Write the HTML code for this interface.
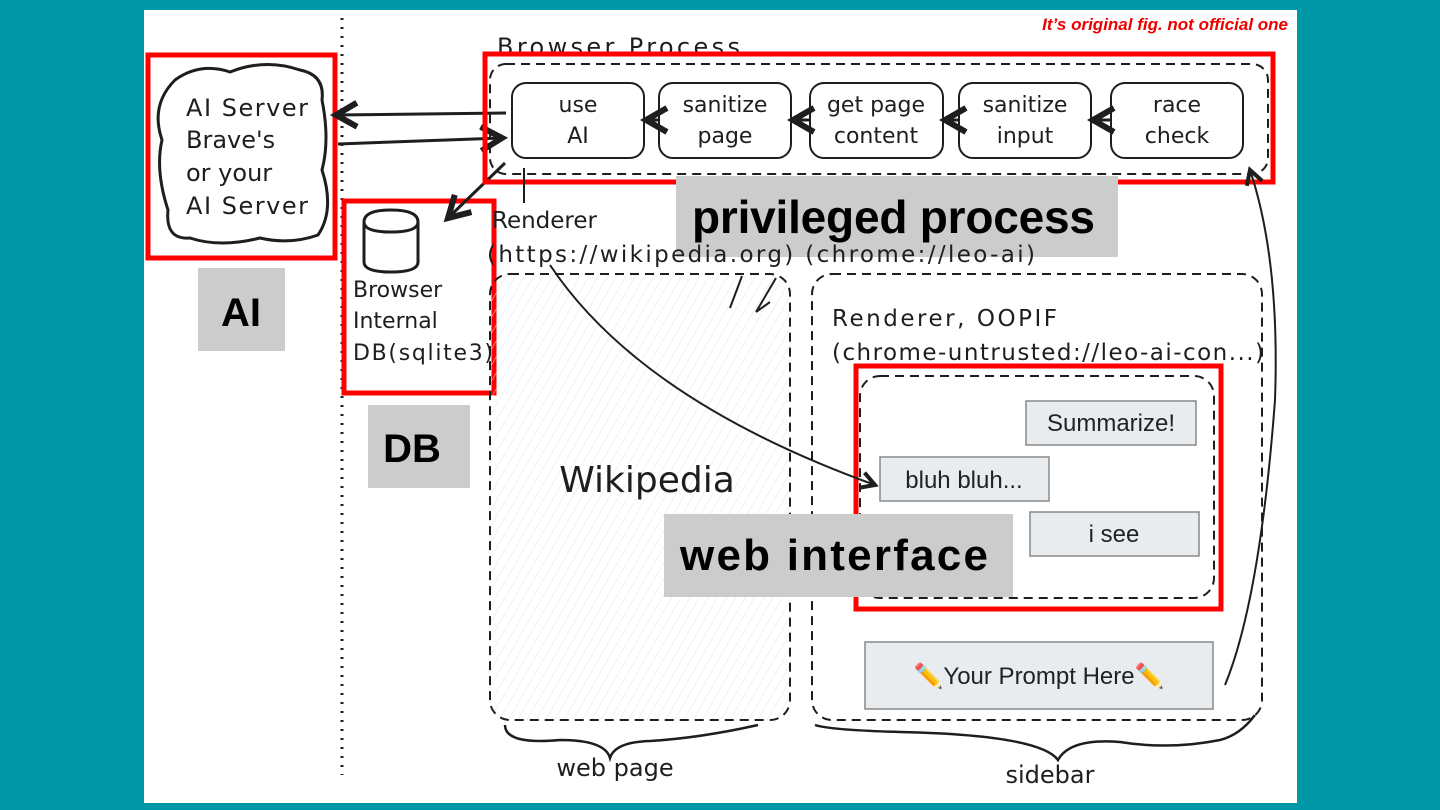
<!DOCTYPE html>
<html><head><meta charset="utf-8"><style>
html,body{margin:0;padding:0;background:#0097a7;width:1440px;height:810px;overflow:hidden}
svg{display:block}
.h{font-family:"DejaVu Sans","Liberation Sans",sans-serif;fill:#1e1e1e}
.b{font-family:"Liberation Sans",sans-serif}
</style></head><body>
<svg width="1440" height="810" viewBox="0 0 1440 810" xmlns="http://www.w3.org/2000/svg">
<defs>
<pattern id="hat" width="8" height="8" patternUnits="userSpaceOnUse" patternTransform="rotate(30)">
<line x1="0" y1="0" x2="0" y2="8" stroke="#e3e3e3" stroke-width="1"/></pattern>
<marker id="ar" markerWidth="10" markerHeight="10" refX="8" refY="5" orient="auto"><path d="M1,1 L8,5 L1,9" fill="none" stroke="#1e1e1e" stroke-width="2"/></marker>
</defs>
<rect x="144" y="10" width="1153" height="793" fill="#fff"/>
<text x="1288" y="30" text-anchor="end" class="b" font-size="17" font-weight="bold" font-style="italic" fill="#e00">It’s original fig. not official one</text>
<line x1="342" y1="18" x2="342" y2="775" stroke="#1e1e1e" stroke-width="3" stroke-dasharray="2,7"/>
<path d="M175,80 Q200,62 230,72 Q265,58 300,70 Q325,75 322,100 Q330,140 322,170 Q335,210 318,235 Q290,245 260,238 Q220,248 190,238 Q165,240 168,210 Q155,170 162,140 Q150,105 175,80Z" fill="#fff" stroke="#1e1e1e" stroke-width="3"/>
<g class="h" font-size="24"><text x="186" y="116" textLength="122">AI Server</text><text x="186" y="148">Brave's</text><text x="186" y="181">or your</text><text x="186" y="214" textLength="122">AI Server</text></g>
<rect x="148" y="55" width="187" height="203" fill="none" stroke="#f00" stroke-width="5"/>
<rect x="198" y="268" width="87" height="83" fill="#ccc"/>
<text x="241" y="326" text-anchor="middle" class="b" font-size="40" font-weight="bold" fill="#000">AI</text>
<path d="M364,222 Q364,210 391,210 Q418,210 418,222 L418,262 Q418,272 391,272 Q364,272 364,262Z M364,222 Q364,232 391,232 Q418,232 418,222" fill="none" stroke="#1e1e1e" stroke-width="3"/>
<g class="h" font-size="22"><text x="353" y="297">Browser</text><text x="353" y="328">Internal</text><text x="353" y="360" textLength="140">DB(sqlite3)</text></g>
<rect x="344" y="201" width="150" height="192" fill="none" stroke="#f00" stroke-width="5"/>
<rect x="368" y="405" width="102" height="83" fill="#ccc"/>
<text x="412" y="462" text-anchor="middle" class="b" font-size="40" font-weight="bold" fill="#000">DB</text>
<text x="497" y="55" class="h" font-size="24" textLength="243">Browser Process</text>
<rect x="490" y="64" width="778" height="110" rx="16" fill="none" stroke="#1e1e1e" stroke-width="2" stroke-dasharray="9,6"/>
<g fill="#fff" stroke="#1e1e1e" stroke-width="2">
<rect x="512" y="83" width="132" height="75" rx="14"/><rect x="659" y="83" width="132" height="75" rx="14"/>
<rect x="810" y="83" width="133" height="75" rx="14"/><rect x="959" y="83" width="132" height="75" rx="14"/>
<rect x="1111" y="83" width="132" height="75" rx="14"/></g>
<g class="h" font-size="22" text-anchor="middle">
<text x="578" y="112">use</text><text x="578" y="143">AI</text>
<text x="725" y="112">sanitize</text><text x="725" y="143">page</text>
<text x="876" y="112">get page</text><text x="876" y="143">content</text>
<text x="1025" y="112">sanitize</text><text x="1025" y="143">input</text>
<text x="1177" y="112">race</text><text x="1177" y="143">check</text></g>
<g stroke="#1e1e1e" stroke-width="3" fill="none" marker-end="url(#ar)">
<line x1="659" y1="120" x2="646" y2="120"/><line x1="810" y1="120" x2="793" y2="120"/>
<line x1="959" y1="120" x2="945" y2="120"/><line x1="1111" y1="120" x2="1093" y2="120"/>
<line x1="506" y1="113" x2="336" y2="115"/><line x1="338" y1="144" x2="502" y2="138"/>
<line x1="505" y1="163" x2="448" y2="218"/></g>
<rect x="485" y="54" width="788" height="128" fill="none" stroke="#f00" stroke-width="5"/>
<rect x="676" y="176" width="442" height="81" fill="#ccc"/>
<text x="692" y="233" class="b" font-size="46" font-weight="bold" fill="#000" textLength="403">privileged process</text>
<line x1="524" y1="168" x2="524" y2="203" stroke="#1e1e1e" stroke-width="2"/>
<text x="492" y="228" class="h" font-size="23">Renderer</text>
<text x="487" y="262" class="h" font-size="23" textLength="548">(https://wikipedia.org) (chrome://leo-ai)</text>
<rect x="490" y="274" width="300" height="446" rx="20" fill="url(#hat)" stroke="#1e1e1e" stroke-width="2" stroke-dasharray="9,6"/>
<text x="647" y="492" text-anchor="middle" class="h" font-size="36">Wikipedia</text>
<path d="M505,725 Q505,745 560,740 Q605,740 610,758 Q615,742 650,741 Q700,738 758,725" fill="none" stroke="#1e1e1e" stroke-width="2.5"/>
<text x="615" y="776" text-anchor="middle" class="h" font-size="24">web page</text>
<path d="M730,308 L742,276 M756,312 L776,278 M756,312 L770,302" stroke="#1e1e1e" stroke-width="2" fill="none"/>
<rect x="812" y="274" width="450" height="446" rx="20" fill="none" stroke="#1e1e1e" stroke-width="2" stroke-dasharray="9,6"/>
<text x="832" y="326" class="h" font-size="23" textLength="225">Renderer, OOPIF</text>
<text x="832" y="360" class="h" font-size="23" textLength="432">(chrome-untrusted://leo-ai-con...)</text>
<rect x="860" y="376" width="354" height="222" rx="20" fill="none" stroke="#1e1e1e" stroke-width="2" stroke-dasharray="9,6"/>
<g fill="#e9ecef" stroke="#888" stroke-width="1.5">
<rect x="1026" y="401" width="170" height="44"/><rect x="880" y="457" width="169" height="44"/>
<rect x="1030" y="512" width="169" height="44"/><rect x="865" y="642" width="348" height="67"/></g>
<g class="b" font-size="24" fill="#222" text-anchor="middle">
<text x="1111" y="431">Summarize!</text><text x="964" y="488">bluh bluh...</text>
<text x="1114" y="542">i see</text><text x="1039" y="684">✏️Your Prompt Here✏️</text></g>
<rect x="856" y="366" width="365" height="243" fill="none" stroke="#f00" stroke-width="5"/>
<rect x="664" y="514" width="349" height="83" fill="#ccc"/>
<text x="680" y="570" class="b" font-size="44" font-weight="bold" fill="#000" textLength="308">web interface</text>
<path d="M550,265 Q640,400 875,485" fill="none" stroke="#1e1e1e" stroke-width="2" marker-end="url(#ar)"/>
<path d="M1225,685 Q1260,600 1275,400 Q1280,260 1250,170" fill="none" stroke="#1e1e1e" stroke-width="2" marker-end="url(#ar)"/>
<path d="M815,725 Q830,730 900,732 Q1040,735 1058,760 Q1070,738 1120,742 Q1170,750 1220,740 Q1240,735 1255,715" fill="none" stroke="#1e1e1e" stroke-width="2.5"/>
<text x="1050" y="783" text-anchor="middle" class="h" font-size="24">sidebar</text>
</svg>
</body></html>
